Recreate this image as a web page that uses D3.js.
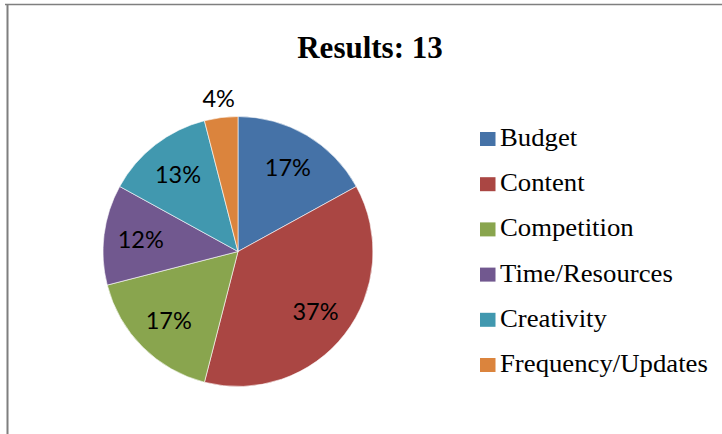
<!DOCTYPE html>
<html>
<head>
<meta charset="utf-8">
<script src="https://cdn.jsdelivr.net/npm/d3@7"></script>
<style>
  html, body { margin: 0; padding: 0; background: #fff; }
  svg { display: block; }
</style>
</head>
<body>
<svg id="chart" width="722" height="434"></svg>
<script>
// Survey responses, share of answers (%)
const categories = ["Budget", "Content", "Competition", "Time/Resources", "Creativity", "Frequency/Updates"];
const values = [17, 37, 17, 12, 13, 4];
const colors = ["#4572A7", "#AA4643", "#89A54E", "#71588F", "#4198AF", "#DB843D"];
const title = "Results: 13";

const svg = d3.select("#chart");
const W = 722, H = 434;

// chart frame (top and left edges of the bordered chart area)
svg.append("line").attr("x1", 5).attr("x2", W).attr("y1", 4.5).attr("y2", 4.5)
  .attr("stroke", "#7f7f7f").attr("stroke-width", 1.5);
svg.append("line").attr("x1", 7.5).attr("x2", 7.5).attr("y1", 4).attr("y2", H)
  .attr("stroke", "#7f7f7f").attr("stroke-width", 2);

// title
svg.append("text")
  .attr("x", 370).attr("y", 58)
  .attr("text-anchor", "middle")
  .style("font-family", "'Liberation Serif', 'Times New Roman', serif")
  .style("font-weight", "bold")
  .style("font-size", "31px")
  .attr("fill", "#000")
  .text(title);

// pie
const cx = 238, cy = 251.5, R = 135;
const color = d3.scaleOrdinal().domain(categories).range(colors);
const pie = d3.pie().value(d => d.value).sort(null);
const data = categories.map((c, i) => ({ name: c, value: values[i] }));
const arcs = pie(data);
const arc = d3.arc().innerRadius(0).outerRadius(R);
const labelInside = d3.arc().innerRadius(98).outerRadius(98);
const labelOutside = d3.arc().innerRadius(154).outerRadius(154);

const g = svg.append("g").attr("transform", `translate(${cx},${cy})`);
g.selectAll("path.slice")
  .data(arcs)
  .join("path")
  .attr("class", "slice")
  .attr("d", arc)
  .attr("fill", d => color(d.data.name))
  .attr("stroke", "#ffffff")
  .attr("stroke-width", 0.6);

const total = d3.sum(values);
g.selectAll("text.pct")
  .data(arcs)
  .join("text")
  .attr("class", "pct")
  .attr("transform", d => {
    const p = (d.data.value / total < 0.05 ? labelOutside : labelInside).centroid(d);
    return `translate(${p[0]},${p[1]})`;
  })
  .attr("text-anchor", "middle")
  .attr("dy", "0.36em")
  .style("font-family", "Lato, 'Open Sans', sans-serif")
  .style("font-size", "23.5px")
  .attr("fill", "#000")
  .text(d => Math.round(d.data.value / total * 100) + "%");

// legend
const legend = svg.append("g").attr("transform", "translate(480,146)");
const rowH = 45.2;
const rows = legend.selectAll("g.row")
  .data(categories)
  .join("g")
  .attr("class", "row")
  .attr("transform", (d, i) => `translate(0,${i * rowH})`);
rows.append("rect")
  .attr("x", 0).attr("y", -14)
  .attr("width", 15.5).attr("height", 14)
  .attr("fill", d => color(d));
rows.append("text")
  .attr("transform", "translate(20,0) scale(1.07,1)")
  .style("font-family", "'Liberation Serif', 'Times New Roman', serif")
  .style("font-size", "25px")
  .attr("fill", "#000")
  .text(d => d);
</script>
</body>
</html>
